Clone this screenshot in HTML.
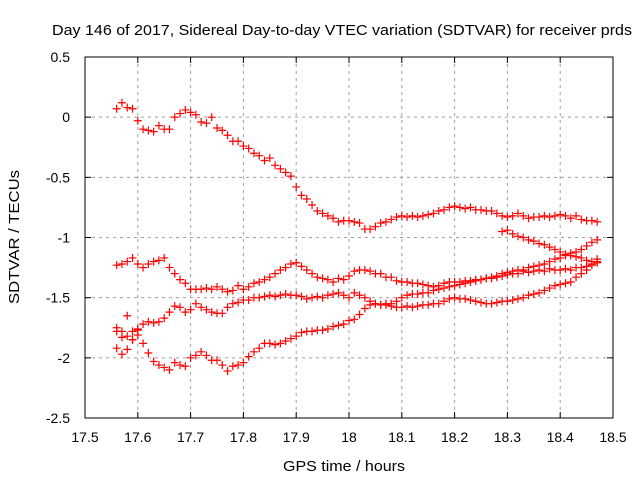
<!DOCTYPE html>
<html><head><meta charset="utf-8"><style>
html,body{margin:0;padding:0;background:#fff;}
svg{display:block;font-family:"Liberation Sans",sans-serif;}
</style></head><body>
<svg id="chart" width="640" height="480" viewBox="0 0 640 480">
<text x="342" y="35" font-size="15" text-anchor="middle" textLength="580" lengthAdjust="spacingAndGlyphs">Day 146 of 2017, Sidereal Day-to-day VTEC variation (SDTVAR) for receiver prds</text>
<text x="344" y="471" font-size="15" text-anchor="middle" textLength="122" lengthAdjust="spacingAndGlyphs">GPS time / hours</text>
<text transform="translate(19,237) rotate(-90)" font-size="15" text-anchor="middle" textLength="134" lengthAdjust="spacingAndGlyphs">SDTVAR / TECUs</text>
<g id="grid"></g>
<g id="ticks"></g>
<g id="marks"></g>
<rect x="85" y="57" width="528" height="361" fill="none" stroke="#000" stroke-width="1"/>
</svg>
<script>
const xTicks = [17.5,17.6,17.7,17.8,17.9,18,18.1,18.2,18.3,18.4,18.5];
const xTickLabels = ["17.5","17.6","17.7","17.8","17.9","18","18.1","18.2","18.3","18.4","18.5"];
const yTicks = [0.5,0,-0.5,-1,-1.5,-2,-2.5];
const yTickLabels = ["0.5","0","-0.5","-1","-1.5","-2","-2.5"];
const hoursStart = 17.56;
const hoursStep = 0.01;
const seriesA = [0.07,0.12,0.08,0.07,-0.03,-0.10,-0.11,-0.12,-0.07,-0.10,-0.10,0.00,0.03,0.06,0.04,0.02,-0.04,-0.05,0.00,-0.09,-0.11,-0.15,-0.20,-0.20,-0.24,-0.26,-0.30,-0.32,-0.36,-0.34,-0.40,-0.43,-0.46,-0.49,-0.58,-0.65,-0.68,-0.73,-0.78,-0.80,-0.82,-0.84,-0.87,-0.86,-0.86,-0.87,-0.88,-0.93,-0.93,-0.91,-0.88,-0.87,-0.85,-0.83,-0.82,-0.83,-0.82,-0.83,-0.82,-0.81,-0.80,-0.78,-0.77,-0.75,-0.74,-0.75,-0.76,-0.75,-0.77,-0.77,-0.78,-0.78,-0.80,-0.82,-0.83,-0.82,-0.80,-0.82,-0.84,-0.83,-0.83,-0.82,-0.83,-0.82,-0.81,-0.82,-0.84,-0.82,-0.85,-0.86,-0.86,-0.87];
const seriesB = [-1.23,-1.22,-1.20,-1.17,-1.22,-1.25,-1.22,-1.20,-1.19,-1.17,-1.25,-1.30,-1.35,-1.38,-1.43,-1.43,-1.43,-1.42,-1.43,-1.41,-1.43,-1.45,-1.44,-1.40,-1.43,-1.41,-1.38,-1.37,-1.35,-1.33,-1.30,-1.27,-1.25,-1.22,-1.21,-1.24,-1.27,-1.30,-1.33,-1.34,-1.35,-1.37,-1.34,-1.35,-1.32,-1.28,-1.27,-1.27,-1.28,-1.30,-1.30,-1.33,-1.33,-1.36,-1.37,-1.37,-1.38,-1.38,-1.39,-1.40,-1.41,-1.40,-1.38,-1.37,-1.37,-1.37,-1.36,-1.36,-1.35,-1.35,-1.34,-1.33,-1.32,-1.30,-1.29,-1.28,-1.27,-1.27,-1.25,-1.24,-1.23,-1.22,-1.20,-1.18,-1.17,-1.15,-1.13,-1.12,-1.10,-1.07,-1.04,-1.02];
const seriesC = [-1.75,-1.78,-1.82,-1.78,-1.76,-1.72,-1.70,-1.71,-1.70,-1.67,-1.62,-1.57,-1.58,-1.62,-1.60,-1.55,-1.58,-1.60,-1.62,-1.63,-1.63,-1.58,-1.55,-1.54,-1.52,-1.52,-1.50,-1.50,-1.49,-1.48,-1.49,-1.48,-1.47,-1.48,-1.48,-1.49,-1.51,-1.50,-1.49,-1.50,-1.48,-1.47,-1.46,-1.48,-1.50,-1.46,-1.48,-1.50,-1.53,-1.55,-1.56,-1.56,-1.57,-1.58,-1.58,-1.57,-1.58,-1.57,-1.56,-1.56,-1.55,-1.55,-1.53,-1.51,-1.50,-1.51,-1.51,-1.52,-1.53,-1.54,-1.55,-1.55,-1.54,-1.53,-1.53,-1.52,-1.51,-1.50,-1.48,-1.47,-1.46,-1.44,-1.42,-1.40,-1.39,-1.38,-1.37,-1.33,-1.30,-1.27,-1.23,-1.18];
const seriesD = [-1.92,-1.97,-1.93,-1.85,-1.81,-1.88,-1.96,-2.03,-2.06,-2.08,-2.10,-2.04,-2.06,-2.07,-2.00,-1.98,-1.95,-1.98,-2.02,-2.02,-2.06,-2.11,-2.07,-2.06,-2.04,-1.99,-1.95,-1.92,-1.88,-1.88,-1.89,-1.88,-1.86,-1.84,-1.82,-1.79,-1.78,-1.78,-1.77,-1.77,-1.76,-1.74,-1.73,-1.72,-1.69,-1.68,-1.64,-1.59,-1.56,-1.55,-1.56,-1.55,-1.55,-1.53,-1.50,-1.48,-1.47,-1.47,-1.46,-1.46,-1.44,-1.43,-1.42,-1.41,-1.40,-1.39,-1.38,-1.37,-1.36,-1.35,-1.34,-1.34,-1.33,-1.32,-1.31,-1.30,-1.30,-1.28,-1.29,-1.28,-1.27,-1.28,-1.26,-1.27,-1.27,-1.26,-1.27,-1.25,-1.25,-1.24,-1.22,-1.20];
const seriesEStart = 17.56;
const seriesE = [-1.78,-1.83,-1.65,-1.85,-1.77];
const seriesFStart = 18.29;
const seriesF = [-0.95,-0.94,-0.97,-0.99,-1.00,-1.02,-1.03,-1.05,-1.06,-1.08,-1.10,-1.12,-1.14,-1.15,-1.16,-1.17,-1.19,-1.20,-1.21];

const X0=85, X1=613, Y0=57, Y1=418;
function xs(h){return X0+(h-17.5)/(18.5-17.5)*(X1-X0);}
function ys(v){return Y0+(0.5-v)/(0.5-(-2.5))*(Y1-Y0);}
const NS="http://www.w3.org/2000/svg";
const grid=document.getElementById('grid'), ticks=document.getElementById('ticks'), marks=document.getElementById('marks');
function mk(tag,attrs,parent){const e=document.createElementNS(NS,tag);for(const k in attrs)e.setAttribute(k,attrs[k]);parent.appendChild(e);return e;}

xTicks.forEach((t,i)=>{
  const x=xs(t);
  if(i>0&&i<xTicks.length-1){
    const g=mk('line',{x1:x,y1:Y0,x2:x,y2:Y1,stroke:'#a0a0a0','stroke-dasharray':'3,4','stroke-width':1},grid);
    
    
  }
  const t1=mk('line',{x1:x,y1:Y1,x2:x,y2:Y1-6,stroke:'#000'},ticks);
  
  
  const t2=mk('line',{x1:x,y1:Y0,x2:x,y2:Y0+6,stroke:'#000'},ticks);
  
  
  const lb=mk('text',{x:x,y:442,'font-size':14,'text-anchor':'middle'},ticks);
  lb.textContent=xTickLabels[i];
  
  
});
yTicks.forEach((t,i)=>{
  const y=ys(t);
  if(i>0&&i<yTicks.length-1){
    const g=mk('line',{x1:X0,y1:y,x2:X1,y2:y,stroke:'#a0a0a0','stroke-dasharray':'3,4','stroke-width':1},grid);
    
    
  }
  const t1=mk('line',{x1:X0,y1:y,x2:X0+6,y2:y,stroke:'#000'},ticks);
  
  
  const t2=mk('line',{x1:X1,y1:y,x2:X1-6,y2:y,stroke:'#000'},ticks);
  
  
  const lb=mk('text',{x:70,y:y+5,'font-size':14,'text-anchor':'end'},ticks);
  lb.textContent=yTickLabels[i];
  
  
});
function plotSeries(vals,start,name){
  vals.forEach((v,i)=>{
    const h=start+i*hoursStep;
    const x=xs(h), y=ys(v);
    const p=mk('path',{d:`M${x-4},${y}H${x+4}M${x},${y-4}V${y+4}`,stroke:'#ff0000','stroke-width':1.2,fill:'none'},marks);
    
    
  });
}
plotSeries(seriesA,hoursStart,'series-a');
plotSeries(seriesB,hoursStart,'series-b');
plotSeries(seriesC,hoursStart,'series-c');
plotSeries(seriesD,hoursStart,'series-d');
plotSeries(seriesE,seriesEStart,'series-e');
plotSeries(seriesF,seriesFStart,'series-f');
</script>
</body></html>
